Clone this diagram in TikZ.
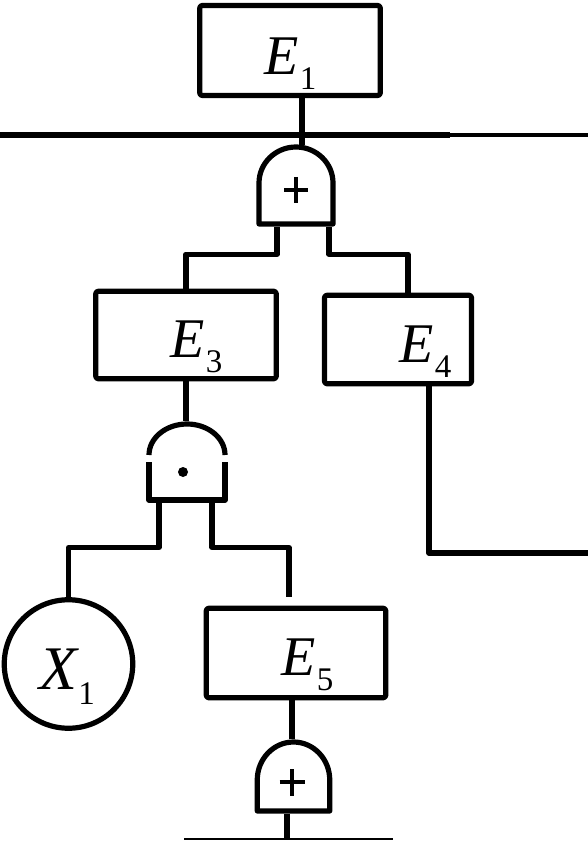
\documentclass[tikz,border=0pt]{standalone}
\usepackage{fontspec}
\setmainfont{Liberation Serif}
\usetikzlibrary{calc}
\newcommand\evlbl[3][56]{{\fontsize{#1}{#1}\selectfont\itshape #2}\kern1pt\raisebox{-15pt}{\fontsize{33}{33}\selectfont #3}}
\begin{document}
\begin{tikzpicture}[x=1pt,y=-1pt,line width=5.2pt,line join=round,
  evbox/.style={draw,rectangle,rounded corners=2.5pt,inner sep=0pt},
  lab/.style={anchor=base west,inner sep=0pt},
  gatebox/.style={rectangle,inner sep=0pt,draw=none},
  plussign/.style={line width=3.5pt}]
\useasboundingbox (0,0) rectangle (588,842);

% event boxes
\node[evbox,minimum width=180.5pt,minimum height=90pt] (e1) at (290,50.5) {};
\node[evbox,minimum width=180.5pt,minimum height=87.5pt] (e3) at (186,335) {};
\node[evbox,minimum width=147pt,minimum height=88.5pt] (e4) at (398,339.5) {};
\node[evbox,minimum width=179.5pt,minimum height=89.5pt] (e5) at (296,653) {};
\node[draw,circle,minimum size=128.5pt,inner sep=0pt] (x1) at (68.5,664) {};

% labels
\node[lab] (t1) at (262,75) {\evlbl{E}{1}};
\node[lab] (t3) at (168,357) {\evlbl{E}{3}};
\node[lab] (t4) at (397,362) {\evlbl{E}{4}};
\node[lab] (t5) at (279,675) {\evlbl{E}{5}};
\node[lab] (tx) at (37,689) {\evlbl[62]{X}{1}};

% gate 1 (OR)
\node[gatebox,minimum width=74pt,minimum height=77pt] (g1) at (296,186) {};
\draw ($(g1.center)+(-37,-3)$) -- ++(0,41) -- ++(74,0) -- ++(0,-41)
   arc[start angle=0,end angle=180,x radius=37pt,y radius=36pt];
\draw[plussign] ($(g1.center)+(-12,4)$) -- ++(24,0) ($(g1.center)+(0,-9)$) -- ++(0,26);

% gate 2 (AND)
\node[gatebox,minimum width=76pt,minimum height=76pt] (g2) at (187,462) {};
\draw ($(g2.center)+(38,-7)$) arc[start angle=0,end angle=180,x radius=38pt,y radius=31pt];
\draw ($(g2.center)+(-38,0)$) -- ++(0,38) -- ++(76,0) -- ++(0,-38);
\fill ($(g2.center)+(-4,10)$) circle[radius=5pt];

% gate 3 (OR)
\node[gatebox,minimum width=72.5pt,minimum height=69pt] (g3) at (293.5,776.5) {};
\draw ($(g3.center)+(-36.25,3.5)$) -- ++(0,31) -- ++(72.5,0) -- ++(0,-31)
   arc[start angle=0,end angle=180,x radius=36.25pt,y radius=38pt];
\draw[plussign] ($(g3.center)+(-14,5.5)$) -- ++(25,0) ($(g3.center)+(-1.5,-7.5)$) -- ++(0,27);

% free ends
\coordinate (hl) at (0,135);
\coordinate (hm) at (450,135);
\coordinate (hr) at (588,135);
\coordinate (r4) at (588,553);
\coordinate (bl) at (184,839);
\coordinate (bm) at (287,839);
\coordinate (br) at (393,839);

% connectors
\draw[line width=6pt] (hl) -- (hm);
\draw[line width=3.5pt] (hm) -- (hr);
\draw (e1.south -| 302,0) -- (g1.north -| 302,0);
\draw ([xshift=-19pt]g1.south) -- ++(0,27) -| (e3.north);
\draw ([xshift=33pt]g1.south) -- ++(0,27) -| ([xshift=10pt]e4.north);
\draw (e3.south) -- (e3.south |- g2.north);
\draw ([xshift=-28pt]g2.south) -- ++(0,45) -| (x1.north);
\draw[shorten >=9pt] ([xshift=25pt]g2.south) -- ++(0,45) -| ([xshift=-7pt]e5.north);
\draw ([xshift=31pt]e4.south) |- (r4);
\draw ([xshift=-4pt]e5.south) -- ([xshift=-4pt]e5.south |- g3.north);
\draw[line width=6.5pt] ([xshift=-6.5pt]g3.south) -- (bm);
\draw[line width=2pt] (bl) -- (br);
\end{tikzpicture}
\end{document}
